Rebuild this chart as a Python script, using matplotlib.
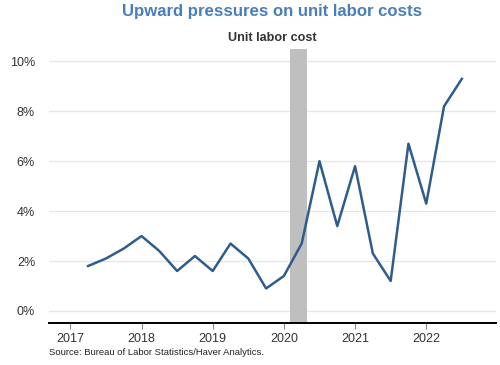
import matplotlib.pyplot as plt
from matplotlib.ticker import FuncFormatter

plt.rcParams["font.family"] = ["Liberation Sans", "DejaVu Sans"]

# quarterly, year-over-year % change
quarters = [2017.25, 2017.5, 2017.75,
            2018.0, 2018.25, 2018.5, 2018.75,
            2019.0, 2019.25, 2019.5, 2019.75,
            2020.0, 2020.25, 2020.5, 2020.75,
            2021.0, 2021.25, 2021.5, 2021.75,
            2022.0, 2022.25, 2022.5]
unit_labor_cost = [1.8, 2.1, 2.5,
                   3.0, 2.4, 1.6, 2.2,
                   1.6, 2.7, 2.1, 0.9,
                   1.4, 2.7, 6.0, 3.4,
                   5.8, 2.3, 1.2, 6.7,
                   4.3, 8.2, 9.3]
recession = (2020.08, 2020.33)
years = [2017, 2018, 2019, 2020, 2021, 2022]
y_ticks = [0, 2, 4, 6, 8, 10]

fig = plt.figure(figsize=(5, 3.65), dpi=100)
ax = fig.add_axes([0.098, 0.114, 0.894, 0.752])

ax.axvspan(*recession, color="#bfbfbf", lw=0, zorder=1)
ax.plot(quarters, unit_labor_cost, color="#2e5d8c", lw=1.8, zorder=3)

ax.set_xlim(2016.7, 2022.98)
ax.set_ylim(-0.5, 10.5)
ax.set_xticks(years)
ax.set_yticks(y_ticks)
ax.yaxis.set_major_formatter(FuncFormatter(lambda v, _: f"{v:.0f}%"))
ax.grid(axis="y", color="#e6e6e6", lw=0.9, zorder=0)
ax.set_axisbelow(True)

for s in ("top", "right", "left"):
    ax.spines[s].set_visible(False)
ax.spines["bottom"].set_color("black")
ax.spines["bottom"].set_linewidth(1.4)
ax.spines["bottom"].set_zorder(4)

ax.tick_params(axis="y", length=0, pad=10, labelsize=9, labelcolor="#333333")
ax.tick_params(axis="x", length=4, width=0.8, color="#888888", pad=3,
               labelsize=9, labelcolor="#333333")

fig.text(0.544, 0.968, "Upward pressures on unit labor costs", ha="center", va="center",
         fontsize=12.1, fontweight="bold", color="#4a7ebb")
fig.text(0.544, 0.895, "Unit labor cost", ha="center", va="center",
         fontsize=9.1, fontweight="bold", color="#333333")
fig.text(0.098, 0.033, "Source: Bureau of Labor Statistics/Haver Analytics.", ha="left",
         va="center", fontsize=6.8, color="#222222")

fig.savefig("out.png", dpi=100)
